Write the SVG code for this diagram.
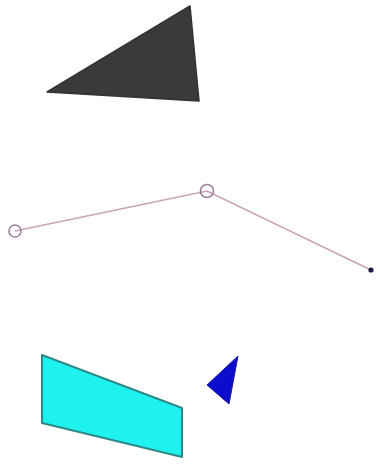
<svg xmlns="http://www.w3.org/2000/svg" width="380" height="464" viewBox="0 0 380 464">
<style>
.vert{fill:none;stroke:#9a829e;stroke-width:1.6}
</style>
<rect width="380" height="464" fill="#ffffff"/>
<g id="dark-triangle"><polygon points="47,92 190,6 199,101" fill="#3a3a3a" stroke="#333" stroke-width="1.5" stroke-linejoin="round"/></g>
<g id="connectors"><polyline points="15,231 207,191 371,270" fill="none" stroke="#c9a4b4" stroke-width="1.6"/></g>
<g id="v1"><circle class="vert" cx="15" cy="231" r="6"/></g>
<g id="v2"><circle class="vert" cx="207" cy="191" r="6.5"/></g>
<g id="v3"><circle cx="371" cy="270" r="2.6" fill="#1a1a40"/></g>
<g id="cyan-quad"><polygon points="42,355 182,408 182,457 42,423" fill="#1ef2ee" stroke="#2e8a88" stroke-width="2" stroke-linejoin="round"/></g>
<g id="blue-triangle"><polygon points="238,356 207,385 229,404" fill="#0c0ccc" stroke="#1a1aa0" stroke-width="1" stroke-linejoin="round"/></g>
</svg>
